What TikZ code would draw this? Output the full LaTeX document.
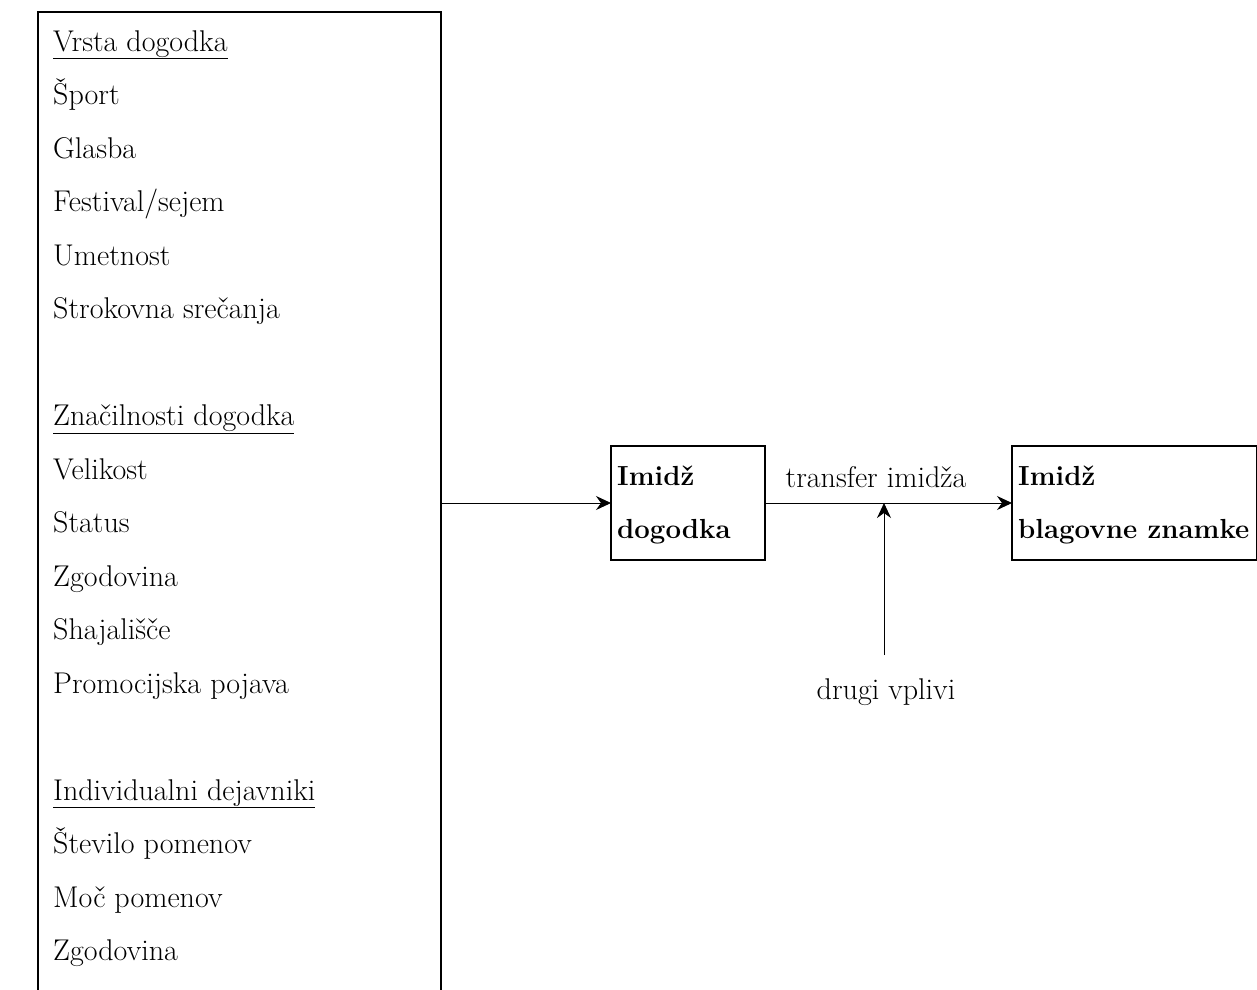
\documentclass[tikz,border=0pt]{standalone}
\usetikzlibrary{arrows.meta}
\begin{document}
\begin{tikzpicture}[x=1pt,y=-1pt,
  item/.style={anchor=base west,inner sep=0pt,font=\fontsize{30}{34}\selectfont},
  bold/.style={anchor=base west,inner sep=0pt,font=\fontsize{27.6}{32}\selectfont\bfseries},
  frame/.style={draw=black,line width=1.6pt},
  conn/.style={draw=black,line width=0.9pt,-{Stealth[length=15pt,width=14pt,inset=5pt]}},
  lbl/.style={inner sep=0pt,font=\fontsize{30}{34}\selectfont}]
\useasboundingbox (0,0) rectangle (1257,989);

% left panel (runs past the bottom edge)
\draw[frame] (38,995) -- (38,12) -- (441,12) -- (441,995);
\coordinate (panelout) at (441,503);

\node[item] (h1) at (53,51)     {\underline{Vrsta dogodka}};
\node[item] (a1) at (53,104.5)  {Šport};
\node[item] (a2) at (53,158)    {Glasba};
\node[item] (a3) at (53,211.5)  {Festival/sejem};
\node[item] (a4) at (53,265)    {Umetnost};
\node[item] (a5) at (53,318.5)  {Strokovna srečanja};
\node[item] (h2) at (53,425.5)  {\underline{Značilnosti dogodka}};
\node[item] (b1) at (53,479)    {Velikost};
\node[item] (b2) at (53,532.5)  {Status};
\node[item] (b3) at (53,586)    {Zgodovina};
\node[item] (b4) at (53,639.5)  {Shajališče};
\node[item] (b5) at (53,693)    {Promocijska pojava};
\node[item] (h3) at (53,800)    {\underline{Individualni dejavniki}};
\node[item] (c1) at (53,853.5)  {Število pomenov};
\node[item] (c2) at (53,907)    {Moč pomenov};
\node[item] (c3) at (53,960.5)  {Zgodovina};

% event image box
\draw[frame] (611,446) rectangle (765,560);
\coordinate (evin) at (611,503);
\coordinate (evout) at (765,503);
\node[bold] (ev1) at (617,485) {Imidž};
\node[bold] (ev2) at (617,538) {dogodka};

% brand image box
\draw[frame] (1012,446) rectangle (1256.5,560);
\coordinate (brin) at (1012,503);
\node[bold] (br1) at (1018,485) {Imidž};
\node[bold] (br2) at (1018,538) {blagovne znamke};

% connectors
\draw[conn] (panelout) -- (evin);
\draw[conn] (evout) -- (brin);
\node[lbl] (tr) at (876,477) {transfer imidža};
\coordinate (mid) at (884,503);
\node[lbl] (dv) at (886,692) {drugi vplivi};
\coordinate (dvtop) at (884,655);
\draw[conn] (dvtop) -- (mid);
\end{tikzpicture}
\end{document}
